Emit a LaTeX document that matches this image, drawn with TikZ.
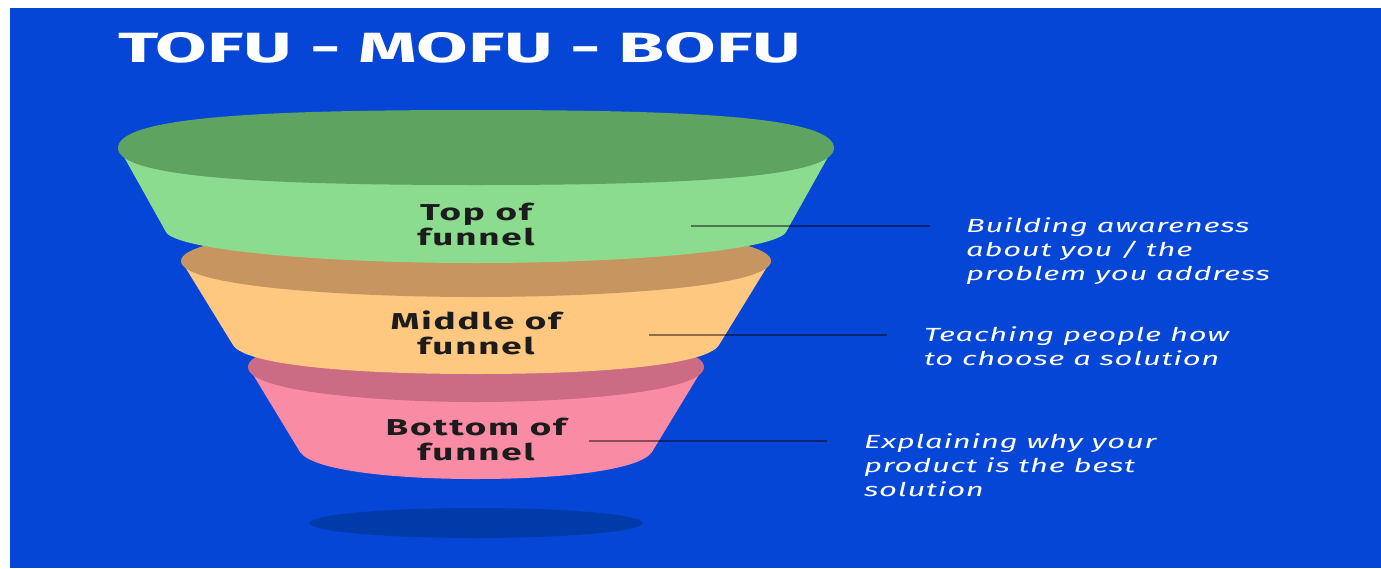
\documentclass[tikz,border=0pt]{standalone}
\usepackage{fontspec}
\setmainfont{Fira Sans}
\newfontfamily\titlefont{Fira Sans}
\newfontfamily\labelfont[FakeStretch=1.6,LetterSpace=8]{Fira Sans}
\newfontfamily\descfont[FakeStretch=1.63,LetterSpace=4]{Fira Sans}
\definecolor{bgblue}{HTML}{0546D6}
\definecolor{shadowblue}{HTML}{003CA9}
\definecolor{greenTop}{HTML}{5EA35F}
\definecolor{greenBody}{HTML}{8CDC8F}
\definecolor{orangeTop}{HTML}{C79560}
\definecolor{orangeBody}{HTML}{FFC880}
\definecolor{pinkTop}{HTML}{CB6C84}
\definecolor{pinkBody}{HTML}{FA8BA5}
\definecolor{labelink}{HTML}{1C1C1C}
\begin{document}
\begin{tikzpicture}[x=1pt,y=-1pt,
  tierlabel/.style={font=\labelfont\bfseries\fontsize{23}{25}\selectfont,
    text=labelink, align=center, inner sep=0pt, anchor=base},
  desc/.style={font=\descfont\itshape\fontsize{19}{24}\selectfont,
    text=white, align=left, inner sep=0pt, anchor=base west},
  link/.style={draw=black, draw opacity=0.45, line width=1.4pt}]
\useasboundingbox (0,0) rectangle (1381,568);
\fill[white] (0,0) rectangle (1381,568);
\fill[bgblue] (10,8) rectangle (1381,568);

% title
\node[anchor=north west, inner sep=0pt, text=white] (title) at (118,32)
  {\resizebox{683pt}{30pt}{\titlefont\bfseries TOFU - MOFU - BOFU}};

% shadow under the funnel
\fill[shadowblue] (476,523) ellipse [x radius=167, y radius=15];

% bottom tier
\fill[pinkBody] (249,368) -- (300,452) .. controls (312,470) and (390,479) .. (476,479)
  .. controls (562,479) and (640,470) .. (652,452) -- (703,368) -- cycle;
\fill[pinkTop] (248,367) .. controls (248,342) and (380,332) .. (476,332)
  .. controls (572,332) and (704,342) .. (704,367)
  .. controls (704,392) and (572,402) .. (476,402)
  .. controls (380,402) and (248,392) .. (248,367) -- cycle;

% middle tier
\fill[orangeBody] (182,262) -- (233,345) .. controls (245,365) and (350,374) .. (476,374)
  .. controls (602,374) and (707,365) .. (719,345) -- (770,262) -- cycle;
\fill[orangeTop] (181,261) .. controls (181,235) and (350,225) .. (476,225)
  .. controls (602,225) and (771,235) .. (771,261)
  .. controls (771,287) and (602,297) .. (476,297)
  .. controls (350,297) and (181,287) .. (181,261) -- cycle;

% top tier
\fill[greenBody] (119,148) -- (166,232) .. controls (176,250) and (320,263) .. (476,263)
  .. controls (632,263) and (776,250) .. (786,232) -- (833,148) -- cycle;
\fill[greenTop] (118,148) .. controls (118,116) and (270,110) .. (476,110)
  .. controls (682,110) and (834,116) .. (834,148)
  .. controls (834,178) and (682,185) .. (476,185)
  .. controls (270,185) and (118,178) .. (118,148) -- cycle;

% tier labels (anchored on the baseline of the last line)
\node[tierlabel] (tofu) at (476,245) {Top of\\funnel};
\node[tierlabel] (mofu) at (476,354) {Middle of\\funnel};
\node[tierlabel] (bofu) at (476,460) {Bottom of\\funnel};

% descriptions (anchored on the baseline of the last line)
\node[desc] (dtofu) at (966,280) {Building awareness\\about you / the\\problem you address};
\node[desc] (dmofu) at (924,365) {Teaching people how\\to choose a solution};
\node[desc] (dbofu) at (864,496) {Explaining why your\\product is the best\\solution};

% leader lines
\coordinate (t1) at (691,226); \coordinate (t2) at (930,226);
\coordinate (m1) at (649,335); \coordinate (m2) at (887,335);
\coordinate (b1) at (589,441); \coordinate (b2) at (827,441);
\draw[link] (t1) -- (t2);
\draw[link] (m1) -- (m2);
\draw[link] (b1) -- (b2);
\end{tikzpicture}
\end{document}
